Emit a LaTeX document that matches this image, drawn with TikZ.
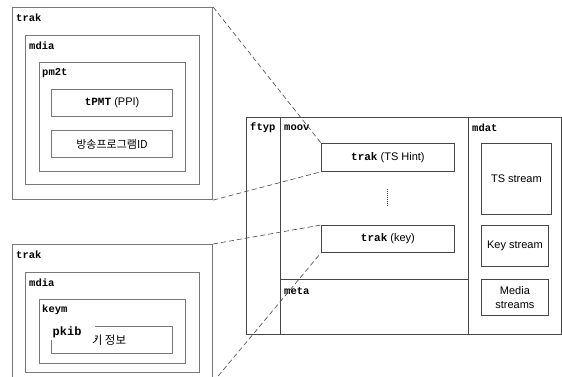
\documentclass[tikz,border=0pt]{standalone}
\usepackage{fontspec}
\setmainfont{Liberation Sans}
\setmonofont{Liberation Mono}
\newfontfamily\krfont{Noto Sans CJK KR}
\usetikzlibrary{positioning,calc}
\definecolor{boxGray}{RGB}{120,120,120}
\definecolor{lineDark}{RGB}{70,70,70}
\tikzset{
  gbox/.style={draw=boxGray, line width=1.1pt, anchor=north west, inner sep=0pt},
  dbox/.style={draw=lineDark, line width=0.8pt, anchor=north west, inner sep=0pt},
  tag/.style={font=\fontsize{10.5}{12}\selectfont\ttfamily\bfseries, anchor=west, inner sep=0pt},
  txt/.style={font=\fontsize{11}{13.5}\selectfont, align=center},
  zoomline/.style={draw=lineDark, line width=0.6pt, dash pattern=on 5pt off 3pt}
}
\begin{document}
\begin{tikzpicture}[x=1pt,y=-1pt]
        \useasboundingbox (0,0) rectangle (562,377);
        \clip (0,0) rectangle (562,377);
        % --- LEFT TOP: trak of the TS hint ---
        \node[gbox, minimum width=200pt, minimum height=192pt] (trakA) at (12,7) {};
        \node[tag] (trakAlbl) at (16,18) {trak};
        \node[gbox, minimum width=174pt, minimum height=149pt] (mdiaA) at (25,35) {};
        \node[tag] (mdiaAlbl) at (29,46) {mdia};
        \node[gbox, minimum width=146pt, minimum height=109pt] (pmt) at (39,62) {};
        \node[tag] (pmtlbl) at (42,73) {pm2t};
        \node[gbox, minimum width=121pt, minimum height=27pt] (tpmt) at (51,89) {};
        \node[txt] (tpmtlbl) at (tpmt.center) {\texttt{\bfseries tPMT} (PPI)};
        \node[gbox, minimum width=121pt, minimum height=27pt] (progid) at (51,130) {};
        \node[txt] (progidlbl) at (progid.center) {\krfont 방송프로그램ID};
        % --- LEFT BOTTOM: trak of the key ---
        \node[gbox, minimum width=200pt, minimum height=137pt] (trakB) at (12,244) {};
        \node[tag] (trakBlbl) at (16,255) {trak};
        \node[gbox, minimum width=174pt, minimum height=100pt] (mdiaB) at (25,272) {};
        \node[tag] (mdiaBlbl) at (29,283) {mdia};
        \node[gbox, minimum width=146pt, minimum height=64pt] (keym) at (39,299) {};
        \node[tag] (keymlbl) at (42,310) {keym};
        \node[gbox, minimum width=121pt, minimum height=27pt] (pkib) at (51,326) {};
        \node[txt, font=\fontsize{11.5}{13}\selectfont\krfont] (pkibtxt) at (109,340) {키 정보};
        \node[tag, font=\fontsize{12}{13}\selectfont\ttfamily\bfseries, fill=white, inner sep=1.5pt,
          text width=41pt, align=left, minimum height=15pt] (pkiblbl) at (51,332) {pkib};
        % --- RIGHT: the file ---
        \node[dbox, minimum width=34pt, minimum height=217pt] (ftyp) at (246,117) {};
        \node[dbox, minimum width=188pt, minimum height=162pt] (moov) at (280,117) {};
        \node[dbox, minimum width=188pt, minimum height=55pt] (meta) at (280,279) {};
        \node[dbox, minimum width=93pt, minimum height=217pt] (mdat) at (468,117) {};
        \node[tag] (ftyplbl) at (250,128) {ftyp};
        \node[tag] (moovlbl) at (284,128) {moov};
        \node[tag] (metalbl) at (284,291) {meta};
        \node[tag] (mdatlbl) at (472,128) {mdat};
        \node[dbox, minimum width=133pt, minimum height=28pt] (tshint) at (321,143) {};
        \node[txt] (tshintlbl) at (tshint.center) {\texttt{\bfseries trak} (TS Hint)};
        \node[dbox, minimum width=133pt, minimum height=27pt] (trakkey) at (321,225) {};
        \node[txt] (trakkeylbl) at (trakkey.center) {\texttt{\bfseries trak} (key)};
        \draw[lineDark, line width=0.8pt, dash pattern=on 1pt off 1pt] (387,189) -- (387,207);
        \node[dbox, minimum width=70pt, minimum height=71pt] (tsstream) at (481,143) {};
        \node[txt] (tsstreamlbl) at (tsstream.center) {TS stream};
        \node[dbox, minimum width=67pt, minimum height=41pt] (keystream) at (481,225) {};
        \node[txt] (keystreamlbl) at (keystream.center) {Key stream};
        \node[dbox, minimum width=67pt, minimum height=36pt] (media) at (481,279) {};
        \node[txt] (medialbl) at (media.center) {Media\\streams};
        % Zoom lines
        \draw[zoomline] (trakA.north east) -- (tshint.north west);
        \draw[zoomline] (trakA.south east) -- (tshint.south west);
        \draw[zoomline] (trakB.north east) -- (trakkey.north west);
        \draw[zoomline] (trakB.south east) -- (trakkey.south west);
\end{tikzpicture}
\end{document}
